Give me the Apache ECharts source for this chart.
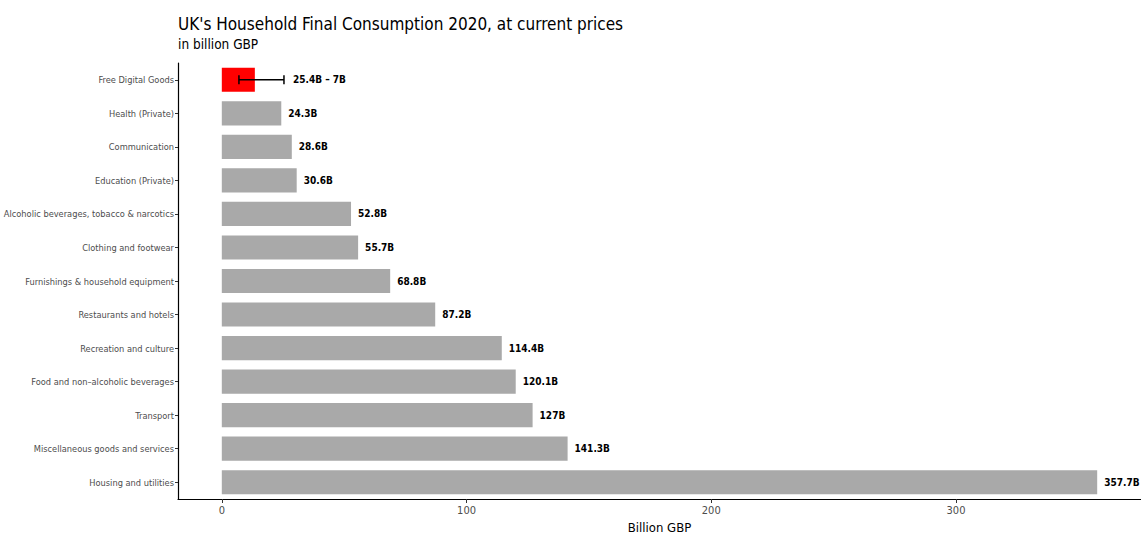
<!DOCTYPE html>
<html>
<head>
<meta charset="utf-8">
<script src="https://cdn.jsdelivr.net/npm/echarts@6/dist/echarts.min.js"></script>
<style>
  html, body { margin: 0; padding: 0; background: #fff; }
  #chart { width: 1141px; height: 535px; }
</style>
</head>
<body>
<div id="chart"></div>
<script>
// bottom to top, as the category axis draws them
var categories = [
  'Housing and utilities',
  'Miscellaneous goods and services',
  'Transport',
  'Food and non\u2013alcoholic beverages',
  'Recreation and culture',
  'Restaurants and hotels',
  'Furnishings & household equipment',
  'Clothing and footwear',
  'Alcoholic beverages, tobacco & narcotics',
  'Education (Private)',
  'Communication',
  'Health (Private)',
  'Free Digital Goods'
];
var values = [357.7, 141.3, 127, 120.1, 114.4, 87.2, 68.8, 55.7, 52.8, 30.6, 28.6, 24.3, 13.5];
var digitalRange = [7, 25.4];
var xTicks = [0, 100, 200, 300];

(function () {
  var font = '"DejaVu Sans Condensed", "Liberation Sans", sans-serif';
  var grey = '#a9a9a9';
  var red = '#ff0000';
  var digitalIdx = categories.indexOf('Free Digital Goods');

  var barData = values.map(function (v, i) {
    if (i === digitalIdx) {
      return { value: v, itemStyle: { color: red }, label: { show: false } };
    }
    return v;
  });

  var chart = echarts.init(document.getElementById('chart'), null, { renderer: 'svg' });
  chart.setOption({
    animation: false,
    title: {
      text: "UK's Household Final Consumption 2020, at current prices",
      subtext: 'in billion GBP',
      left: 173,
      top: 10,
      itemGap: 5,
      textStyle: { fontFamily: font, fontSize: 17, fontWeight: 'normal', color: '#000' },
      subtextStyle: { fontFamily: font, fontSize: 13.5, color: '#000' }
    },
    grid: { left: 178, right: 0, top: 63, bottom: 36, outerBoundsMode: 'none' },
    xAxis: {
      type: 'value',
      min: -17.9,
      max: 375.6,
      name: 'Billion GBP',
      nameLocation: 'middle',
      nameGap: 21,
      nameTextStyle: { fontFamily: font, fontSize: 13, color: '#000' },
      splitLine: { show: false },
      axisLine: { show: true, lineStyle: { color: '#000', width: 1.2 } },
      axisTick: { show: true, length: 4, customValues: xTicks, lineStyle: { color: '#333' } },
      axisLabel: { customValues: xTicks, fontFamily: font, fontSize: 11, color: '#4d4d4d', margin: 6 }
    },
    yAxis: {
      type: 'category',
      data: categories,
      axisLine: { show: true, onZero: false, lineStyle: { color: '#000', width: 1.2 } },
      axisTick: { show: true, length: 3, alignWithLabel: true, lineStyle: { color: '#333' } },
      axisLabel: { fontFamily: font, fontSize: 9.2, color: '#4d4d4d', margin: 4 }
    },
    series: [
      {
        type: 'bar',
        data: barData,
        barWidth: '72%',
        itemStyle: { color: grey },
        label: {
          show: true,
          position: 'right',
          distance: 7,
          fontFamily: font,
          fontSize: 10,
          fontWeight: 'bold',
          color: '#000',
          formatter: function (p) { return p.value + 'B'; }
        }
      },
      {
        type: 'custom',
        data: [[digitalRange[0], digitalRange[1], digitalIdx]],
        encode: { x: [0, 1], y: 2 },
        renderItem: function (params, api) {
          var lo = api.coord([api.value(0), api.value(2)]);
          var hi = api.coord([api.value(1), api.value(2)]);
          var cap = 4.5;
          var st = { stroke: '#000', lineWidth: 1.5 };
          return {
            type: 'group',
            children: [
              { type: 'line', shape: { x1: lo[0], y1: lo[1], x2: hi[0], y2: hi[1] }, style: st },
              { type: 'line', shape: { x1: lo[0], y1: lo[1] - cap, x2: lo[0], y2: lo[1] + cap }, style: st },
              { type: 'line', shape: { x1: hi[0], y1: hi[1] - cap, x2: hi[0], y2: hi[1] + cap }, style: st },
              {
                type: 'text',
                x: hi[0] + 9,
                y: hi[1],
                style: {
                  text: api.value(1) + 'B \u2013 ' + api.value(0) + 'B',
                  font: 'bold 10px ' + font,
                  fill: '#000',
                  verticalAlign: 'middle'
                }
              }
            ]
          };
        },
        z: 5
      }
    ]
  });
  window.addEventListener('resize', function () { chart.resize(); });
})();
</script>
</body>
</html>
